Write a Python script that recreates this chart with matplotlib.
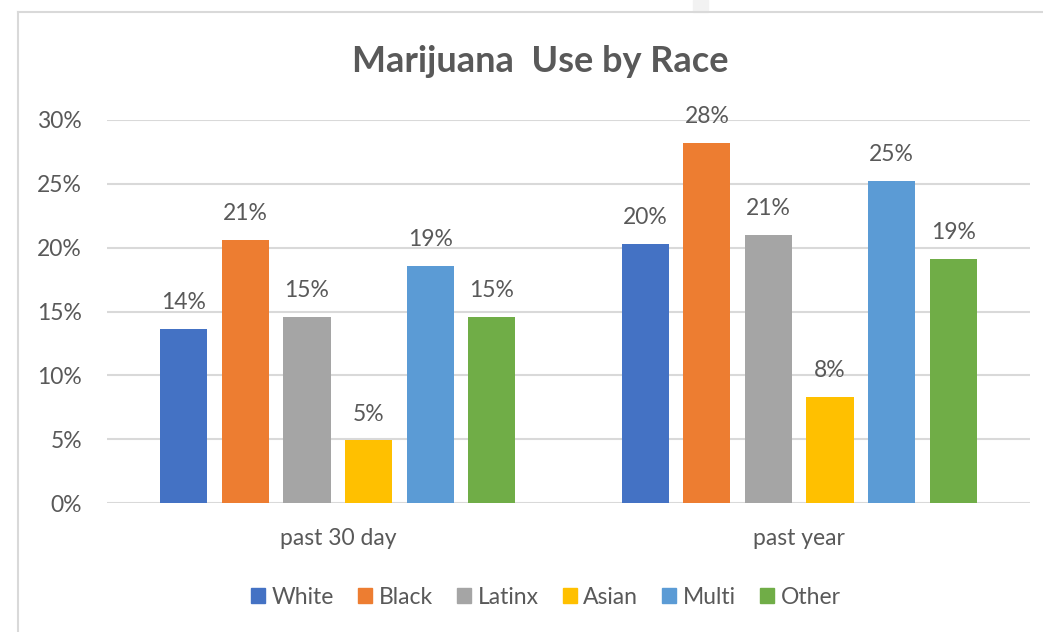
#!/usr/bin/env python3

# Marijuana use by race - clustered column chart

import numpy as np
from matplotlib import pyplot as plt
from matplotlib.patches import Rectangle
from matplotlib.lines import Line2D
from matplotlib.ticker import PercentFormatter

periods = ["past 30 day", "past year"]
races = ["White", "Black", "Latinx", "Asian", "Multi", "Other"]
colors = ["#4472C4", "#ED7D31", "#A5A5A5", "#FFC000", "#5B9BD5", "#70AD47"]

white = [0.136, 0.203]
black = [0.206, 0.282]
latinx = [0.146, 0.210]
asian = [0.049, 0.083]
multi = [0.186, 0.252]
other = [0.146, 0.191]

series = [white, black, latinx, asian, multi, other]
text_color = "#595959"
grid_color = "#D9D9D9"

plt.rcParams["font.family"] = ["Lato", "DejaVu Sans"]

fig = plt.figure(figsize = (10.43, 6.32), dpi = 100)
ax = fig.add_axes([107 / 1043, 1 - 503 / 632, 923 / 1043, 383 / 632])

x = np.arange(len(periods))
width = 0.102
step = 0.1334

for i, (name, vals) in enumerate(zip(races, series)):
    pos = x + (i - 2.5) * step
    bars = ax.bar(pos, vals, width = width, color = colors[i], label = name, zorder = 3)
    for b, v in zip(bars, vals):
        ax.annotate(f"{round(v * 100)}%", (b.get_x() + b.get_width() / 2, v),
                    xytext = (0, 19), textcoords = "offset points",
                    ha = "center", va = "center", fontsize = 16.5, color = text_color)

ax.set_xlim(-0.5, 1.5)
ax.set_ylim(0, 0.30)
ax.set_yticks(np.arange(0, 0.31, 0.05))
ax.yaxis.set_major_formatter(PercentFormatter(1.0, decimals = 0))
ax.set_xticks(x)
ax.set_xticklabels(periods)
ax.tick_params(axis = "both", length = 0, labelsize = 16.5, colors = text_color)
ax.tick_params(axis = "x", pad = 18)
ax.tick_params(axis = "y", pad = 18)
ax.grid(axis = "y", color = grid_color, linewidth = 1.5, zorder = 0)
for s in ax.spines.values():
    s.set_visible(False)

fig.text(540 / 1043, 1 - 62 / 632, "Marijuana  Use by Race", ha = "center", va = "center",
         fontsize = 26, fontweight = "bold", color = text_color)

handles = [Rectangle((0, 0), 1, 1, color = c) for c in colors]
fig.legend(handles, races, loc = "center", bbox_to_anchor = (546 / 1043, 1 - 597 / 632),
           ncol = 6, frameon = False, fontsize = 16.5, labelcolor = text_color,
           handlelength = 0.6, handleheight = 0.6, handletextpad = 0.3, columnspacing = 1.05)

# chart frame (cropped on the right and bottom)
fig.add_artist(Line2D([18 / 1043, 1.0], [1 - 12 / 632, 1 - 12 / 632], color = grid_color, linewidth = 1.5))
fig.add_artist(Line2D([18 / 1043, 18 / 1043], [0.0, 1 - 12 / 632], color = grid_color, linewidth = 1.5))
fig.add_artist(Rectangle((693 / 1043, 1 - 12 / 632), 15 / 1043, 12 / 632, color = "#F2F2F2", transform = fig.transFigure))

plt.savefig("out.png", dpi = 100)
